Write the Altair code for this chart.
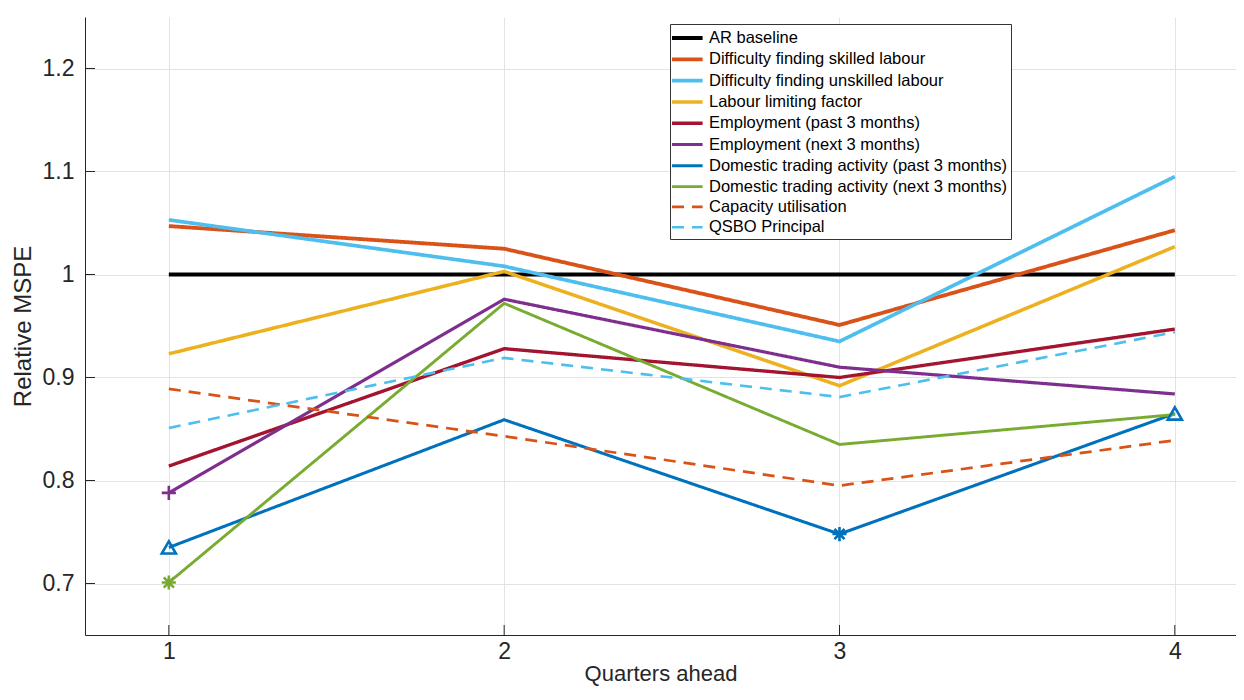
import altair as alt
import pandas as pd

quarters = [1, 2, 3, 4]

series_names = [
    "AR baseline",
    "Difficulty finding skilled labour",
    "Difficulty finding unskilled labour",
    "Labour limiting factor",
    "Employment (past 3 months)",
    "Employment (next 3 months)",
    "Domestic trading activity (past 3 months)",
    "Domestic trading activity (next 3 months)",
    "Capacity utilisation",
    "QSBO Principal",
]

ar_baseline = [1.000, 1.000, 1.000, 1.000]
skilled = [1.047, 1.025, 0.951, 1.043]
unskilled = [1.053, 1.008, 0.935, 1.095]
labour_limiting = [0.923, 1.003, 0.892, 1.027]
emp_past = [0.814, 0.928, 0.900, 0.947]
emp_next = [0.788, 0.976, 0.910, 0.884]
dom_past = [0.735, 0.859, 0.748, 0.865]
dom_next = [0.701, 0.972, 0.835, 0.864]
capacity = [0.889, 0.843, 0.795, 0.839]
qsbo = [0.851, 0.919, 0.881, 0.944]

series_values = [ar_baseline, skilled, unskilled, labour_limiting, emp_past,
                 emp_next, dom_past, dom_next, capacity, qsbo]

series_colors = ["#000000", "#D95319", "#4DBEEE", "#EDB120", "#A2142F",
                 "#7E2F8E", "#0072BD", "#77AC30", "#D95319", "#4DBEEE"]
series_dashes = [[1, 0]] * 8 + [[12, 8], [12, 8]]
series_widths = [4, 2.6, 2.6, 2.6, 2.6, 2.6, 2.6, 2.6, 2.6, 2.6]

# significance markers: (series index, quarter, marker kind)
marker_series = [5, 6, 6, 6, 7]
marker_quarter = [1, 1, 3, 4, 1]
marker_kind = ["plus", "triangle", "asterisk", "triangle", "asterisk"]

rows = []
for i, name in enumerate(series_names):
    for q, v in zip(quarters, series_values[i]):
        rows.append({"series": name, "quarter": q, "value": v})
df = pd.DataFrame(rows)

mrows = []
for s, q, k in zip(marker_series, marker_quarter, marker_kind):
    mrows.append({"series": series_names[s], "quarter": q,
                  "value": series_values[s][q - 1], "kind": k,
                  "hex": series_colors[s]})
mdf = pd.DataFrame(mrows)

x_ticks = [1, 2, 3, 4]
y_ticks = [0.7, 0.8, 0.9, 1.0, 1.1, 1.2]

PLOT_W = 1151
PLOT_H = 618
xscale = alt.Scale(domain=[0.75, 0.75 + PLOT_W / 335.33], nice=False, zero=False)
yscale = alt.Scale(domain=[0.65, 1.25], nice=False, zero=False)

FONT = "Liberation Sans"
TXT = "#262626"
GRID = "#e3e3e3"

x_enc = alt.X("quarter:Q", scale=xscale, title="Quarters ahead",
              axis=alt.Axis(values=x_ticks, format="d", ticks=False,
                            labelFontSize=23, titleFontSize=22,
                            labelPadding=5, titlePadding=0,
                            titleFontWeight="normal", titleFont=FONT,
                            labelFont=FONT, labelColor=TXT, titleColor=TXT,
                            domainColor=TXT, gridColor=GRID,
                            labelFlush=False))
y_enc = alt.Y("value:Q", scale=yscale, title="Relative MSPE",
              axis=alt.Axis(values=y_ticks,
                            labelExpr="datum.value == 1 ? '1' : format(datum.value, '.1f')",
                            ticks=False, labelFontSize=23, titleFontSize=24,
                            labelPadding=11, titlePadding=7,
                            titleFontWeight="normal", titleFont=FONT,
                            labelFont=FONT, labelColor=TXT, titleColor=TXT,
                            domainColor=TXT, gridColor=GRID,
                            labelFlush=False))

lines = alt.Chart(df).mark_line().encode(
    x=x_enc,
    y=y_enc,
    color=alt.Color("series:N", title=None,
                    scale=alt.Scale(domain=series_names, range=series_colors),
                    sort=series_names),
    strokeDash=alt.StrokeDash("series:N", title=None,
                              scale=alt.Scale(domain=series_names, range=series_dashes),
                              sort=series_names),
    strokeWidth=alt.StrokeWidth("series:N", title=None,
                                scale=alt.Scale(domain=series_names, range=series_widths),
                                sort=series_names),
    order=alt.Order("quarter:Q"),
)

plus_path = "M-1,0L1,0M0,-1L0,1"
ast_path = "M-1,0L1,0M0,-1L0,1M-0.72,-0.72L0.72,0.72M-0.72,0.72L0.72,-0.72"
tri_path = "triangle-up"

points = alt.Chart(mdf).mark_point(filled=False, strokeWidth=2.6, size=200, opacity=1).encode(
    x=alt.X("quarter:Q", scale=xscale),
    y=alt.Y("value:Q", scale=yscale),
    stroke=alt.Stroke("hex:N", scale=None, legend=None),
    shape=alt.Shape("kind:N", scale=alt.Scale(domain=["plus", "triangle", "asterisk"],
                                              range=[plus_path, tri_path, ast_path]),
                    legend=None),
)

# inward tick marks
xt = pd.DataFrame({"t": x_ticks})
yt = pd.DataFrame({"t": y_ticks})
xticks = alt.Chart(xt).mark_rule(color=TXT, strokeWidth=1).encode(
    x=alt.X("t:Q", scale=xscale), y=alt.value(PLOT_H), y2=alt.value(PLOT_H - 10))
yticks = alt.Chart(yt).mark_rule(color=TXT, strokeWidth=1).encode(
    y=alt.Y("t:Q", scale=yscale), x=alt.value(0), x2=alt.value(10))

chart = alt.layer(lines, points, xticks, yticks).properties(
    width=PLOT_W, height=PLOT_H,
    autosize=alt.AutoSizeParams(type="none"),
    padding={"left": 77, "top": 9, "right": 0, "bottom": 52},
).configure_view(stroke=None).configure_legend(
    orient="none", legendX=585, legendY=7,
    fillColor="white", strokeColor="#333333", padding=3,
    symbolType="M-1.7,0L1.7,0", symbolSize=324, symbolOffset=3.3,
    labelOffset=10.7, labelFontSize=16.5, labelFont=FONT, labelColor="#000000",
    rowPadding=1.3, labelLimit=400,
).configure_axis(grid=True)

chart.save("out.html", embed_options={"renderer": "svg", "actions": False})
